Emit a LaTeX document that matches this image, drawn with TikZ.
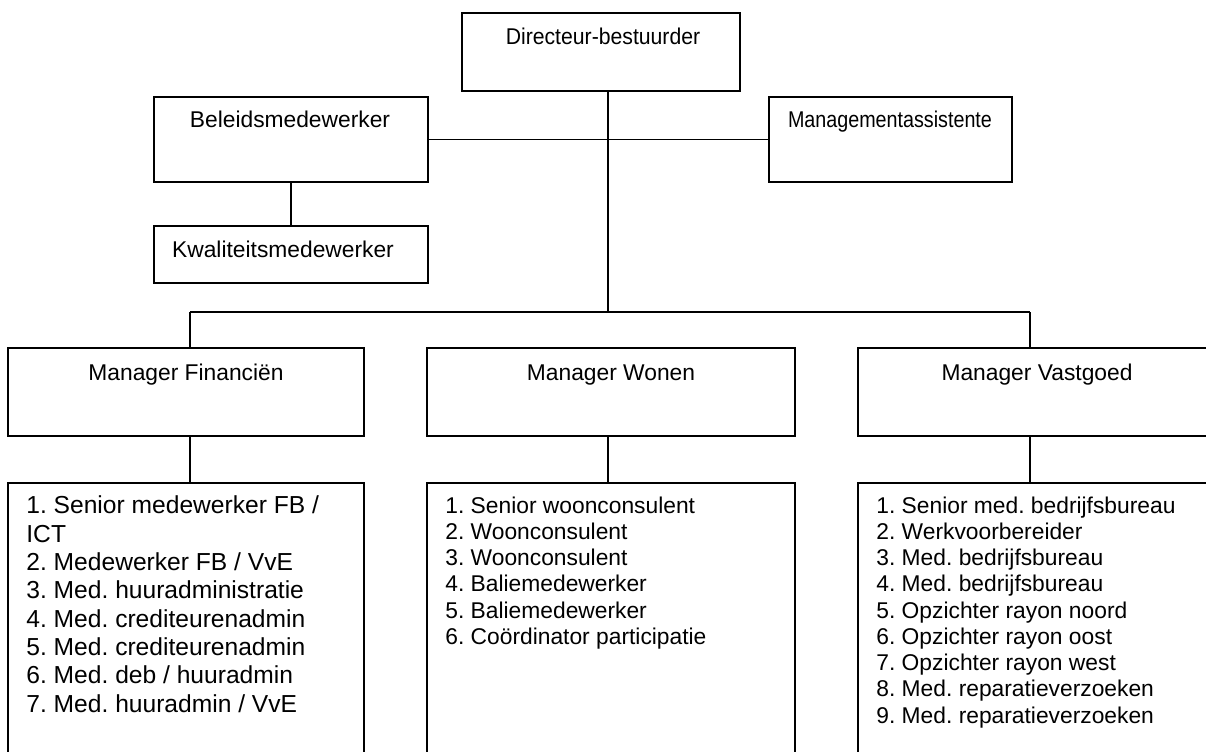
\documentclass[tikz,border=0pt]{standalone}
\usepackage{graphicx}
\usepackage{fontspec}
\setmainfont{Liberation Sans}
\frenchspacing
\begin{document}
\begin{tikzpicture}[x=0.5pt,y=-0.5pt,
  box/.style={draw,line width=0.65pt,inner sep=0pt,outer sep=0pt},
  lbl/.style={inner sep=0pt,anchor=base,font=\fontsize{11.4}{13}\selectfont},
  lst/.style={inner sep=0pt,anchor=base west,align=left},
  conn/.style={line width=0.65pt}]
\clip (0,0) rectangle (1206,751);
\fill[white] (0,0) rectangle (1206,751);
% boxes (px units, y down)
\node[box,minimum width=139pt,minimum height=39pt] (dir) at (601,52) {};
\node[box,minimum width=137pt,minimum height=42.5pt] (bel) at (291,139.5) {};
\node[box,minimum width=121.5pt,minimum height=42.5pt] (man) at (890.5,139.5) {};
\node[box,minimum width=137pt,minimum height=28.5pt] (kwa) at (291,254.5) {};
\node[box,minimum width=178pt,minimum height=44pt] (mf) at (186,392) {};
\node[box,minimum width=184pt,minimum height=44pt] (mw) at (611,392) {};
\node[box,minimum width=180pt,minimum height=44pt] (mv) at (1038,392) {};
\node[box,minimum width=178pt,minimum height=145pt] (lf) at (186,628) {};
\node[box,minimum width=184pt,minimum height=145pt] (lw) at (611,628) {};
\node[box,minimum width=180pt,minimum height=145pt] (lv) at (1038,628) {};
% labels
\node[lbl] (tdir) at (603,44) {\scalebox{0.93}[1]{Directeur-bestuurder}};
\node[lbl] (tbel) at (290,127) {Beleidsmedewerker};
\node[lbl] (tman) at (890,127) {\scalebox{0.865}[1]{Managementassistente}};
\node[lbl] (tkwa) at (283,257) {Kwaliteitsmedewerker};
\node[lbl] (tmf) at (186,380) {Manager Financiën};
\node[lbl] (tmw) at (611,380) {Manager Wonen};
\node[lbl] (tmv) at (1037,380) {Manager Vastgoed};
% list nodes: anchored at the baseline of their last line
\node[lst,font=\fontsize{12.3}{14.15}\selectfont] (tlf) at (26,712) {1. Senior medewerker FB /\\ICT\\2. Medewerker FB / VvE\\3. Med. huuradministratie\\4. Med. crediteurenadmin\\5. Med. crediteurenadmin\\6. Med. deb / huuradmin\\7. Med. huuradmin / VvE};
\node[lst,font=\fontsize{11.4}{13.15}\selectfont] (tlw) at (445,644.5) {1. Senior woonconsulent\\2. Woonconsulent\\3. Woonconsulent\\4. Baliemedewerker\\5. Baliemedewerker\\6. Coördinator participatie};
\node[lst,font=\fontsize{11.4}{13.12}\selectfont] (tlv) at (876,723) {1. Senior med. bedrijfsbureau\\2. Werkvoorbereider\\3. Med. bedrijfsbureau\\4. Med. bedrijfsbureau\\5. Opzichter rayon noord\\6. Opzichter rayon oost\\7. Opzichter rayon west\\8. Med. reparatieverzoeken\\9. Med. reparatieverzoeken};
% connectors
\coordinate (trunk) at (608,312);
\coordinate (hl) at (190,312);
\coordinate (hr) at (1030,312);
\draw[conn] (trunk |- dir.south) -- (trunk);
\draw[conn] (bel.east) -- (man.west);
\draw[conn] (bel.south) -- (kwa.north);
\draw[conn] (hl) -- (hr);
\draw[conn] (hl) -- (hl |- mf.north);
\draw[conn] (hr) -- (hr |- mv.north);
\draw[conn] (hl |- mf.south) -- (hl |- lf.north);
\draw[conn] (trunk |- mw.south) -- (trunk |- lw.north);
\draw[conn] (hr |- mv.south) -- (hr |- lv.north);
\end{tikzpicture}
\end{document}
